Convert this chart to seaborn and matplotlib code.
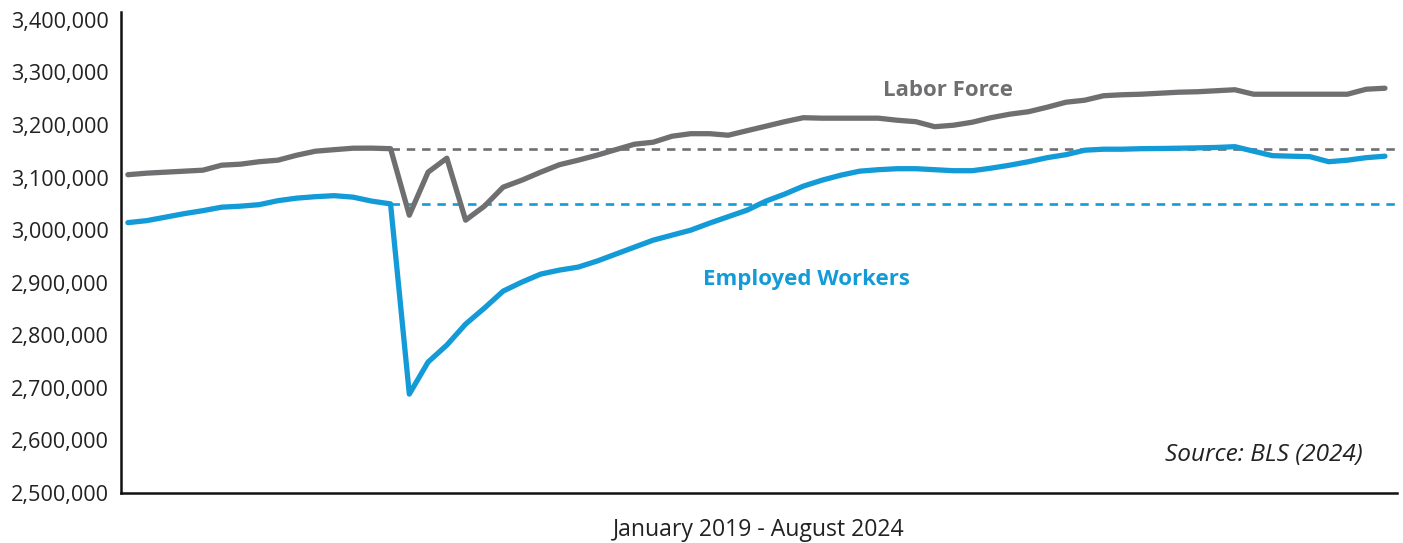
import matplotlib
matplotlib.use("Agg")
import matplotlib.pyplot as plt
import numpy as np
import pandas as pd
import seaborn as sns

# Monthly observations, January 2019 through August 2024
months = pd.date_range("2019-01-01", "2024-08-01", freq="MS")

labor_force = [
    3105500, 3108400, 3110300, 3112200, 3114100, 3123600, 3125500, 3130200,
    3133100, 3142600, 3150200, 3153100, 3155900, 3156000, 3155000, 3028500,
    3110300, 3136900, 3019000, 3045600, 3081800, 3095100, 3110300, 3124500,
    3133100, 3142600, 3153100, 3163500, 3167300, 3178700, 3183500, 3183500,
    3180600, 3189200, 3197700, 3206300, 3213900, 3213000, 3213000, 3213000,
    3213000, 3209100, 3206300, 3196800, 3199600, 3205300, 3213900, 3220600,
    3225300, 3233900, 3243400, 3247200, 3255700, 3257600, 3258600, 3260500,
    3262400, 3263300, 3265200, 3267100, 3258600, 3258600, 3258600, 3258600,
    3258600, 3258600, 3268100, 3270000,
]

employed = [
    3014300, 3018100, 3024700, 3031400, 3037100, 3043700, 3045600, 3048500,
    3056100, 3060900, 3063700, 3065600, 3062800, 3055200, 3050000, 2688200,
    2749100, 2781400, 2821300, 2851700, 2884000, 2901200, 2916400, 2924000,
    2929700, 2941100, 2954400, 2967700, 2981000, 2990500, 3000000, 3013300,
    3025700, 3038000, 3055200, 3068500, 3083700, 3095100, 3104600, 3112200,
    3115000, 3116900, 3116900, 3115000, 3113100, 3113100, 3117900, 3123600,
    3130200, 3137900, 3143600, 3152100, 3154000, 3154000, 3155000, 3155300,
    3155900, 3156500, 3157300, 3158800, 3150200, 3141700, 3140700, 3139800,
    3130200, 3133100, 3137900, 3140700,
]

series_names = ["Labor Force", "Employed Workers"]
y_ticks = list(range(2500000, 3400001, 100000))

# Pre-pandemic reference month (March 2020)
ref_idx = 14

gray = "#6f6f71"
blue = "#139bd8"

n = len(months)
df = pd.DataFrame({
    "month": np.concatenate([np.arange(n), np.arange(n)]),
    "value": labor_force + employed,
    "series": [series_names[0]] * n + [series_names[1]] * n,
})

sns.set_theme(style="white")
plt.rcParams["font.family"] = ["Open Sans", "DejaVu Sans"]

fig = plt.figure(figsize=(14.03, 5.43), dpi=100)
ax = fig.add_axes([0.0862, 0.0921, 0.9095, 0.8858])

# Reference levels for the two series
ax.hlines(labor_force[ref_idx], ref_idx, 67.64, colors=gray, linestyles=(0, (3.2, 2.6)),
          linewidth=1.9, zorder=1)
ax.hlines(employed[ref_idx], ref_idx, 67.64, colors=blue, linestyles=(0, (3.2, 2.6)),
          linewidth=1.9, zorder=1)

sns.lineplot(data=df, x="month", y="value", hue="series",
             palette={series_names[0]: gray, series_names[1]: blue},
             linewidth=3.8, legend=False, ax=ax, zorder=3)

ax.set_xlim(-0.37, 67.64)
ax.set_ylim(2500000, 3415000)
ax.set_yticks(y_ticks)
ax.set_yticklabels([f"{v:,}" for v in y_ticks], fontsize=15.6, color="#222222")
ax.set_xticks([])
ax.tick_params(axis="y", length=0, pad=9)
ax.set_ylabel("")
ax.set_xlabel("January 2019 - August 2024", fontsize=16.6, color="#222222", labelpad=18)

for side in ["top", "right"]:
    ax.spines[side].set_visible(False)
for side in ["left", "bottom"]:
    ax.spines[side].set_color("#111111")
    ax.spines[side].set_linewidth(1.8)

ax.text(43.7, 3266000, "Labor Force", color=gray, fontsize=16, fontweight="bold",
        ha="center", va="center")
ax.text(36.15, 2907000, "Employed Workers", color=blue, fontsize=16, fontweight="bold",
        ha="center", va="center")
ax.text(65.8, 2573000, "Source: BLS (2024)", color="#222222", fontsize=17.6,
        fontstyle="italic", ha="right", va="center")

fig.savefig("out.png", dpi=100)
